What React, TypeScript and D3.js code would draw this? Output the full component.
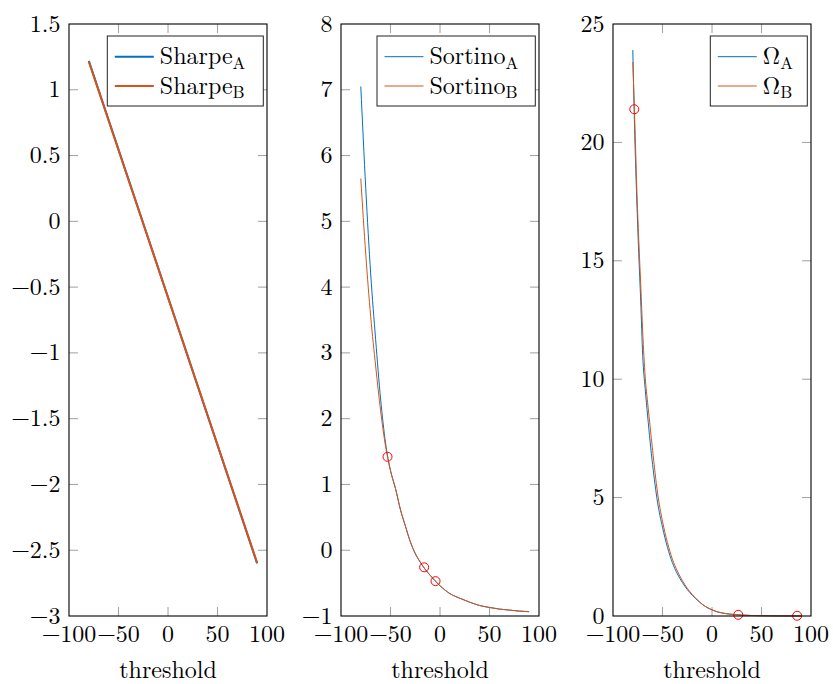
import React from "react";
import * as d3 from "d3";

const W = 833;
const H = 684;

// x tick labels (shared)
const xTicks = [-100, -50, 0, 50, 100];

// Sharpe panel
const sharpeX = [-80, 90];
const sharpeA = [1.22, -2.6];
const sharpeB = [1.215, -2.595];
const sharpeYTicks = [-3, -2.5, -2, -1.5, -1, -0.5, 0, 0.5, 1, 1.5];

// Sortino panel
const sortinoX = [-80, -75, -70, -65, -60, -55, -50, -45, -40, -35, -30, -25, -20, -15, -10, -5, 0, 10, 20, 30, 40, 50, 60, 70, 80, 90];
const sortinoA = [7.05, 5.5, 4.2, 3.2, 2.3, 1.63, 1.21, 0.94, 0.62, 0.37, 0.13, -0.05, -0.18, -0.29, -0.38, -0.465, -0.54, -0.66, -0.73, -0.79, -0.84, -0.87, -0.895, -0.91, -0.925, -0.935];
const sortinoB = [5.65, 4.5, 3.55, 2.8, 2.12, 1.58, 1.21, 0.94, 0.62, 0.37, 0.13, -0.05, -0.18, -0.29, -0.38, -0.465, -0.54, -0.66, -0.73, -0.79, -0.84, -0.87, -0.895, -0.91, -0.925, -0.935];
const sortinoMarkX = [-53, -16, -4.5];
const sortinoMarkY = [1.42, -0.26, -0.47];
const sortinoYTicks = [-1, 0, 1, 2, 3, 4, 5, 6, 7, 8];

// Omega panel
const omegaX = [-80, -78, -76, -74, -72, -70, -67.5, -65, -62.5, -60, -55, -50, -45, -40, -35, -30, -25, -20, -15, -10, -5, 0, 5, 10, 20, 30, 40, 50, 60, 70, 80, 90];
const omegaA = [23.9, 20.3, 17.6, 15.3, 13.3, 11.0, 9.6, 8.45, 7.35, 6.4, 4.8, 3.75, 2.9, 2.25, 1.78, 1.42, 1.12, 0.88, 0.68, 0.5, 0.36, 0.26, 0.18, 0.13, 0.07, 0.04, 0.022, 0.013, 0.008, 0.005, 0.003, 0.002];
const omegaB = [23.4, 20.9, 18.1, 15.9, 14.0, 12.0, 10.1, 9.0, 8.0, 7.0, 5.2, 4.0, 3.1, 2.4, 1.9, 1.5, 1.17, 0.91, 0.69, 0.5, 0.36, 0.26, 0.18, 0.13, 0.07, 0.04, 0.022, 0.013, 0.008, 0.005, 0.003, 0.002];
const omegaMarkX = [-78.5, 26.5, 86];
const omegaMarkY = [21.4, 0.05, 0.01];
const omegaYTicks = [0, 5, 10, 15, 20, 25];

const BLUE = "#0072BD";
const ORANGE = "#D95319";
const FONT = "Latin Modern Roman";

type Series = { x: number[]; y: number[]; color: string; width: number };

type PanelProps = {
  left: number;
  yDomain: [number, number];
  yTicks: number[];
  series: Series[];
  marks?: { x: number[]; y: number[] };
  legendName: string;
  legendRight: number;
  legendWidth: number;
};

const TOP = 24;
const BOTTOM = 616;
const PW = 198;

function Panel(p: PanelProps) {
  const x = d3.scaleLinear().domain([-100, 100]).range([p.left, p.left + PW]);
  const y = d3.scaleLinear().domain(p.yDomain).range([BOTTOM, TOP]);
  const fmt = d3.format("~g");
  const line = d3
    .line<[number, number]>()
    .x((d) => x(d[0]))
    .y((d) => y(d[1]))
    .curve(d3.curveMonotoneX);
  const tickLen = 9;
  const tickColor = "#a0a0a0";
  const lgTop = 36;
  const lgBottom = 106;
  const lgRow1 = 56.7;
  const lgRow2 = 86;
  return (
    <g>
      {xTicks.slice(1, -1).map((t) => (
        <g key={"xt" + t}>
          <line x1={x(t)} x2={x(t)} y1={BOTTOM} y2={BOTTOM - tickLen} stroke={tickColor} strokeWidth={1} />
          <line x1={x(t)} x2={x(t)} y1={TOP} y2={TOP + tickLen} stroke={tickColor} strokeWidth={1} />
        </g>
      ))}
      {p.yTicks.slice(1, -1).map((t) => (
        <g key={"yt" + t}>
          <line x1={p.left} x2={p.left + tickLen} y1={y(t)} y2={y(t)} stroke={tickColor} strokeWidth={1} />
          <line x1={p.left + PW} x2={p.left + PW - tickLen} y1={y(t)} y2={y(t)} stroke={tickColor} strokeWidth={1} />
        </g>
      ))}
      {p.series.map((s, i) => (
        <path
          key={"s" + i}
          d={line(s.x.map((v, j) => [v, s.y[j]] as [number, number])) || ""}
          fill="none"
          stroke={s.color}
          strokeWidth={s.width}
        />
      ))}
      {p.marks &&
        p.marks.x.map((mx, i) => (
          <circle key={"m" + i} cx={x(mx)} cy={y(p.marks!.y[i])} r={4.5} fill="none" stroke="#ff0000" strokeWidth={1} />
        ))}
      <rect x={p.left} y={TOP} width={PW} height={BOTTOM - TOP} fill="none" stroke="#000" strokeWidth={1.1} />
      {xTicks.map((t) => (
        <text key={"xl" + t} x={x(t)} y={642} textAnchor="middle" fontSize={24} fontFamily={FONT} fill="#000">
          {fmt(t)}
        </text>
      ))}
      {p.yTicks.map((t) => (
        <text key={"yl" + t} x={p.left - 8.5} y={y(t) + 7.5} textAnchor="end" fontSize={24} fontFamily={FONT} fill="#000">
          {fmt(t)}
        </text>
      ))}
      <text x={p.left + PW / 2} y={678} textAnchor="middle" fontSize={24} fontFamily={FONT} fill="#000">
        threshold
      </text>
      <rect x={p.legendRight - p.legendWidth} y={lgTop} width={p.legendWidth} height={lgBottom - lgTop} fill="#fff" stroke="#222" strokeWidth={1} />
      {p.series.map((s, i) => {
        const ly = i === 0 ? lgRow1 : lgRow2;
        const lx = p.legendRight - p.legendWidth + 7.5;
        return (
          <g key={"lg" + i}>
            <line x1={lx} x2={lx + 39} y1={ly} y2={ly} stroke={s.color} strokeWidth={s.width} />
            <text x={lx + 45} y={ly + 7.5} fontSize={24} fontFamily={FONT} fill="#000">
              {p.legendName}
              <tspan fontSize={17} dy={4.5}>
                {i === 0 ? "A" : "B"}
              </tspan>
            </text>
          </g>
        );
      })}
    </g>
  );
}

export default function App() {
  return (
    <svg width={W} height={H} style={{ position: "absolute", left: 0, top: 0, background: "#fff" }}>
      <rect width={W} height={H} fill="#fff" />
      <Panel
        left={69}
        yDomain={[-3, 1.5]}
        yTicks={sharpeYTicks}
        series={[
          { x: sharpeX, y: sharpeA, color: BLUE, width: 2 },
          { x: sharpeX, y: sharpeB, color: ORANGE, width: 2 },
        ]}
        legendName="Sharpe"
        legendRight={263.3}
        legendWidth={156}
      />
      <Panel
        left={341}
        yDomain={[-1, 8]}
        yTicks={sortinoYTicks}
        series={[
          { x: sortinoX, y: sortinoA, color: BLUE, width: 1 },
          { x: sortinoX, y: sortinoB, color: ORANGE, width: 1 },
        ]}
        marks={{ x: sortinoMarkX, y: sortinoMarkY }}
        legendName="Sortino"
        legendRight={535.3}
        legendWidth={158.3}
      />
      <Panel
        left={613}
        yDomain={[0, 25]}
        yTicks={omegaYTicks}
        series={[
          { x: omegaX, y: omegaA, color: BLUE, width: 1 },
          { x: omegaX, y: omegaB, color: ORANGE, width: 1 },
        ]}
        marks={{ x: omegaMarkX, y: omegaMarkY }}
        legendName="Ω"
        legendRight={807.3}
        legendWidth={97}
      />
    </svg>
  );
}
